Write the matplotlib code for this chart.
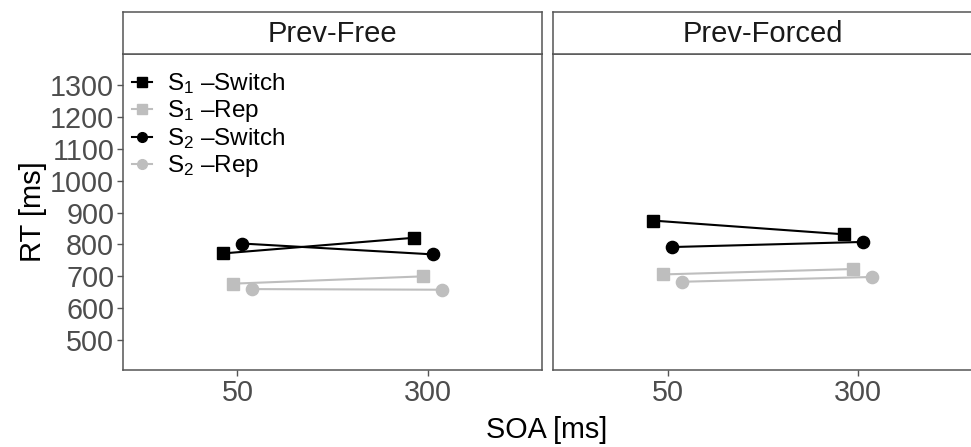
import matplotlib
matplotlib.use('Agg')
import matplotlib.pyplot as plt
from matplotlib.lines import Line2D

plt.rcParams['font.family'] = ['Liberation Sans', 'DejaVu Sans']
plt.rcParams['mathtext.fontset'] = 'custom'
plt.rcParams['mathtext.rm'] = 'Liberation Sans'
plt.rcParams['mathtext.it'] = 'Liberation Sans:italic'

# ---------------- data ----------------
panels = ['Prev-Free', 'Prev-Forced']
soa_labels = ['50', '300']
series_labels = [r'$\mathregular{S_1}$ –Switch', r'$\mathregular{S_1}$ –Rep',
                 r'$\mathregular{S_2}$ –Switch', r'$\mathregular{S_2}$ –Rep']

free_s1_switch = [772, 821]
free_s1_rep = [677, 700]
free_s2_switch = [803, 769]
free_s2_rep = [660, 658]

forced_s1_switch = [875, 832]
forced_s1_rep = [706, 723]
forced_s2_switch = [792, 808]
forced_s2_rep = [683, 698]

y_ticks = [500, 600, 700, 800, 900, 1000, 1100, 1200, 1300]

panel_data = [
    [free_s1_switch, free_s1_rep, free_s2_switch, free_s2_rep],
    [forced_s1_switch, forced_s1_rep, forced_s2_switch, forced_s2_rep],
]

# ---------------- style ----------------
colors = ['black', '#BEBEBE', 'black', '#BEBEBE']
markers = ['s', 's', 'o', 'o']
msizes = [8.8, 8.8, 8.8, 8.8]
leg_msizes = [6.5, 6.5, 7.0, 7.0]
dodge = [-0.075, -0.025, 0.025, 0.075]
border_col = '#555555'
tick_col = '#4D4D4D'

W, H = 971, 447
fig = plt.figure(figsize=(W / 100, H / 100), dpi=100)

def px_rect(x0, y0, x1, y1):
    return [x0 / W, (H - y1) / H, (x1 - x0) / W, (y1 - y0) / H]

panel_x = [(123.2, 542.1), (553.3, 972.2)]
ptop, pbot, stop = 54.0, 370.0, 12.3

axes = []
for i, (x0, x1) in enumerate(panel_x):
    ax = fig.add_axes(px_rect(x0, ptop, x1, pbot))
    sax = fig.add_axes(px_rect(x0, stop, x1, ptop))
    for a in (ax, sax):
        for s in a.spines.values():
            s.set_color(border_col)
            s.set_linewidth(1.1)
    sax.set_xticks([]); sax.set_yticks([])
    sax.text(0.5, 0.47, panels[i], ha='center', va='center', fontsize=21,
             color='#1A1A1A', transform=sax.transAxes)

    for j, vals in enumerate(panel_data[i]):
        xs = [k + 1 + dodge[j] for k in range(len(vals))]
        ax.plot(xs, vals, color=colors[j], lw=1.5, marker=markers[j],
                ms=msizes[j], mec=colors[j], mfc=colors[j], label=series_labels[j],
                solid_capstyle='butt')

    ax.set_xlim(0.4, 2.6)
    ax.set_ylim(406, 1398)
    ax.set_xticks([1, 2])
    ax.set_xticklabels(soa_labels)
    ax.set_yticks(y_ticks)
    ax.tick_params(axis='both', colors=border_col, labelcolor=tick_col,
                   labelsize=20.7, length=4.5, width=1.0, pad=2)
    if i == 0:
        ax.set_yticklabels([str(v) for v in y_ticks])
        ax.set_ylabel('RT [ms]', fontsize=21, color='black', labelpad=2)
    else:
        ax.tick_params(axis='y', left=False, labelleft=False)
    axes.append(ax)

handles = [Line2D([], [], color=colors[j], lw=1.5, marker=markers[j], ms=leg_msizes[j],
                  mec=colors[j], mfc=colors[j]) for j in range(4)]
axes[0].legend(handles, series_labels, loc='upper left',
               bbox_to_anchor=(0.02, 0.945), frameon=False, fontsize=17.5,
               handlelength=0.85, handletextpad=0.6, labelspacing=0.08,
               borderpad=0, borderaxespad=0)

fig.text(547 / W, (H - 430) / H, 'SOA [ms]', ha='center', va='center', fontsize=20.7)

fig.savefig('out.png', dpi=100)
